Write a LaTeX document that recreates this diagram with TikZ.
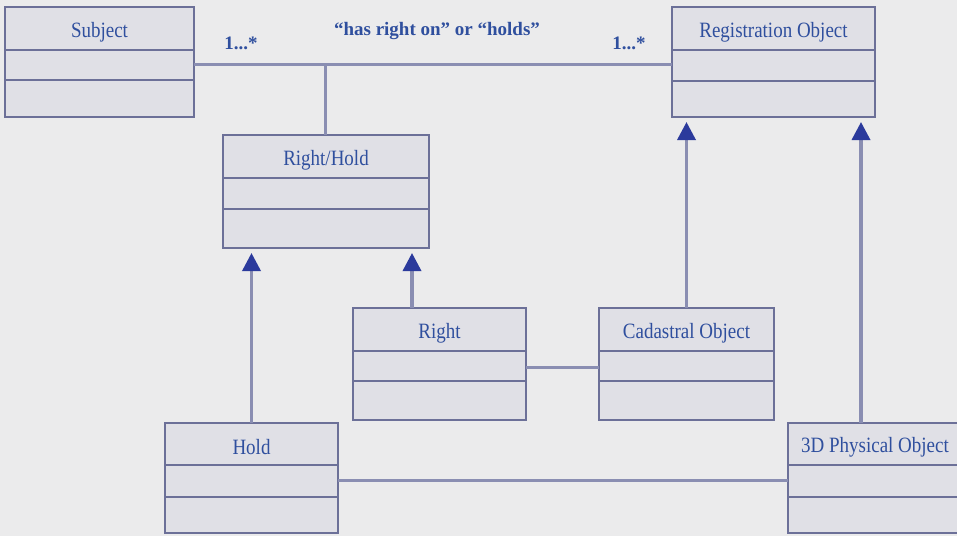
\documentclass[tikz,border=0pt]{standalone}
\usepackage{fontspec}
\usepackage{graphicx}
\setmainfont{Liberation Serif}
\usetikzlibrary{arrows.meta}
\definecolor{bg}{HTML}{EBEBEC}
\definecolor{boxfill}{HTML}{E0E0E6}
\definecolor{boxline}{HTML}{6C7098}
\definecolor{conn}{HTML}{8A8EB2}
\definecolor{txtblue}{HTML}{2F4F9E}
\definecolor{arrblue}{HTML}{2B3A9C}
\tikzset{
  classbox/.style={draw=boxline, fill=boxfill, line width=2.5pt, rectangle, inner sep=0pt, outer sep=0pt},
  divider/.style={draw=boxline, line width=2.2pt},
  classtext/.style={text=txtblue, font=\fontsize{19}{22}\selectfont, inner sep=0pt},
  assoc/.style={draw=conn, line width=3pt},
  inh/.style={draw=conn, line width=3.5pt, shorten >=5pt, -{Triangle[width=18pt,length=18pt,fill=arrblue,color=arrblue]}},
  multlabel/.style={text=txtblue, font=\bfseries\fontsize{19}{22}\selectfont, inner sep=0pt}
}
\newcommand\umlclass[8]{%
  \node[classbox, minimum width={#4-#2}, minimum height={#5-#3}, anchor=north west] (#1) at (#2,#3) {};
  \draw[divider] (#2,#6) -- (#4,#6);
  \draw[divider] (#2,#7) -- (#4,#7);
  \node[classtext] (#1-t) at ({(#2+#4)/2},{(#3+#6)/2+3.5}) {\scalebox{1}[1.15]{#8}};
}
\begin{document}
\begin{tikzpicture}[x=1pt,y=-1pt]
\useasboundingbox[fill=bg] (0,0) rectangle (957,536);
\coordinate (j) at (325,64);
\umlclass{subj}{5}{7}{194}{117}{50}{80}{Subject}
\umlclass{reg}{672}{7}{875}{117}{50}{81}{Registration Object}
\umlclass{rh}{223}{135}{429}{248}{178}{209}{Right/Hold}
\umlclass{right}{353}{308}{526}{420}{351}{381}{Right}
\umlclass{cad}{599}{308}{774}{420}{351}{381}{Cadastral Object}
\umlclass{hold}{165}{423}{338}{533}{465}{497}{Hold}
\umlclass{phys}{788}{423}{962}{533}{465}{497}{3D Physical Object}
% associations
\draw[assoc] ([yshift=-2pt]subj.east) -- ([yshift=-2pt]reg.west);
\draw[assoc] (j) -- (j |- rh.north);
\draw[assoc] ([yshift=-3pt]right.east) -- ([yshift=-3pt]cad.west);
\draw[assoc] ([yshift=-2pt]hold.east) -- ([yshift=-2pt]phys.west);
% generalizations
\draw[inh] (hold.north) -- (hold.north |- rh.south);
\draw[inh] ([xshift=-27.5pt]right.north) -- ([xshift=-27.5pt]right.north |- rh.south);
\draw[inh] (cad.north) -- (cad.north |- reg.south);
\draw[inh] ([xshift=-14pt]phys.north) -- ([xshift=-14pt]phys.north |- reg.south);
% labels
\node[multlabel] (m1) at (241,43) {1...*};
\node[multlabel] (role) at (437,31) {“has right on” or “holds”};
\node[multlabel] (m2) at (629,43) {1...*};
\end{tikzpicture}
\end{document}
